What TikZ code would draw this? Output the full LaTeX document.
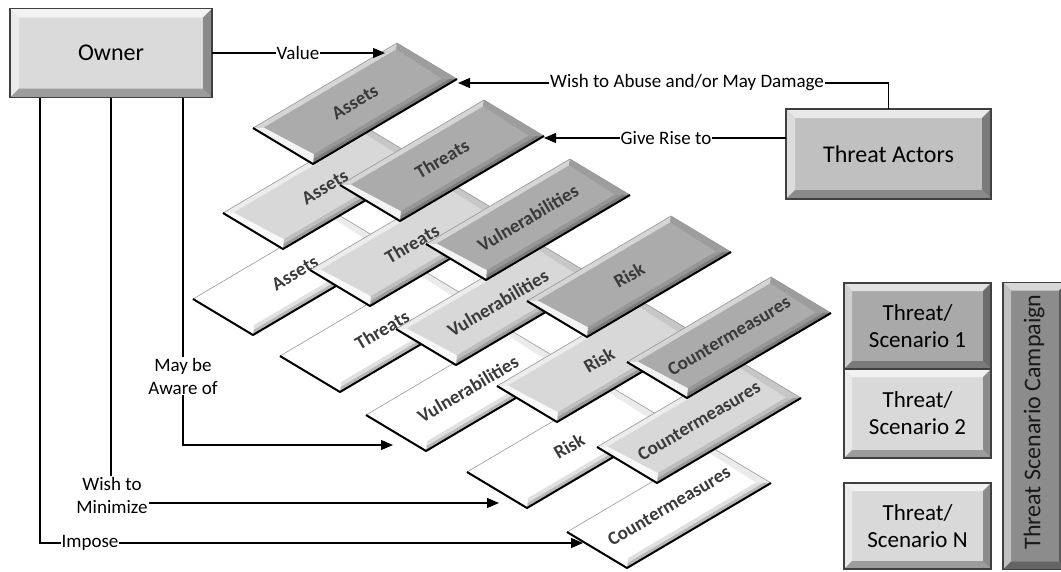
\documentclass[tikz,border=0pt]{standalone}
\usepackage{fontspec}
\setmainfont{Carlito}
\usetikzlibrary{arrows.meta,calc}

\definecolor{darkface}{HTML}{ABABAB}
\definecolor{midface}{HTML}{D8D8D8}
\definecolor{ownerface}{HTML}{DADADA}
\definecolor{actorface}{HTML}{C0C0C0}
\definecolor{tsdark}{HTML}{A9A9A9}
\definecolor{tslight}{HTML}{D9D9D9}
\definecolor{campface}{HTML}{8C8C8C}
\definecolor{txtgray}{HTML}{3A3A3A}

\tikzset{
  conn/.style={line width=1.2pt, black},
  arr/.style={conn, -{Triangle[length=12pt,width=10pt]}},
  lbl/.style={fill=white, inner sep=1pt, font=\fontsize{19}{23}\selectfont, align=center},
  bigbox/.style={inner sep=0pt, outer sep=0pt, align=center, font=\fontsize{24}{27}\selectfont},
  sltext/.style={rotate=30.55, font=\bfseries\fontsize{19}{22}\selectfont, text=txtgray, inner sep=0pt},
}

% slanted (isometric) bevelled box: #1 x, #2 y of left corner, #3 face colour, #4 text, #5 name
\newcommand\slbox[5]{%
\begin{scope}[shift={(#1,#2)}, x={(144pt,85pt)}, y={(60pt,-36pt)}]
  \fill[#3] (0,0) -- (1,0) -- (1,1) -- (0,1) -- cycle;
  \fill[#3!50!white] (0,0) -- (1,0) -- (0.96,0.08) -- (0.04,0.08) -- cycle;
  \fill[#3!92!black] (1,0) -- (1,1) -- (0.95,0.87) -- (0.96,0.08) -- cycle;
  \fill[#3!88!black] (0,1) -- (1,1) -- (0.95,0.87) -- (0.06,0.87) -- cycle;
  \fill[#3!72!black] (0,1) -- (1,1) -- (0.975,0.935) -- (0.03,0.935) -- cycle;
  \fill[#3!15!white] (0,0) -- (0,1) -- (0.06,0.87) -- (0.04,0.08) -- cycle;
  \draw[black!40, line width=0.6pt] (0,0) -- (1,0) -- (1,1);
  \draw[black, line width=2pt, line join=round] (0,0) -- (0,1) -- (1,1);
\end{scope}
\node[sltext] (#5) at ($(#1,#2)+(102,-26)$) {#4};
}

% bevel for a rectangular node: #1 name, #2 face colour, #3 width
\newcommand\rbevel[3]{%
  \fill[#2!35!white] (#1.north west) -- (#1.north east) -- ($(#1.north east)+(-#3,#3)$) -- ($(#1.north west)+(#3,#3)$) -- cycle;
  \fill[#2!55!white] (#1.north west) -- (#1.south west) -- ($(#1.south west)+(#3,-#3)$) -- ($(#1.north west)+(#3,#3)$) -- cycle;
  \fill[#2!72!black] (#1.south west) -- (#1.south east) -- ($(#1.south east)+(-#3,-#3)$) -- ($(#1.south west)+(#3,-#3)$) -- cycle;
  \fill[#2!64!black] (#1.north east) -- (#1.south east) -- ($(#1.south east)+(-#3,-#3)$) -- ($(#1.north east)+(-#3,#3)$) -- cycle;
  \draw[black!75, line width=1.5pt] (#1.north west) rectangle (#1.south east);
}

\begin{document}
\begin{tikzpicture}[x=1pt,y=-1pt]
\useasboundingbox (0,0) rectangle (1061,571);
\fill[white] (0,0) rectangle (1061,571);

% white row
\slbox{193}{299}{white}{Assets}{wA}
\slbox{280}{356}{white}{Threats}{wT}
\slbox{366}{415}{white}{Vulnerabilities}{wV}
\slbox{467}{472}{white}{Risk}{wR}
\slbox{567}{532}{white}{Countermeasures}{wC}
% medium row
\slbox{223}{213}{midface}{Assets}{mA}
\slbox{310}{270}{midface}{Threats}{mT}
\slbox{396}{329}{midface}{Vulnerabilities}{mV}
\slbox{497}{386}{midface}{Risk}{mR}
\slbox{597}{447}{midface}{Countermeasures}{mC}
% dark row
\slbox{253}{128}{darkface}{Assets}{dA}
\slbox{340}{185}{darkface}{Threats}{dT}
\slbox{426}{244}{darkface}{Vulnerabilities}{dV}
\slbox{527}{301}{darkface}{Risk}{dR}
\slbox{627}{362}{darkface}{Countermeasures}{dC}

% rectangular boxes
\node[bigbox, fill=ownerface, minimum width=202pt, minimum height=89pt] (owner) at (111,53) {};
\rbevel{owner}{ownerface}{9}
\node[bigbox] (ownerTxt) at (owner) {Owner};

\node[bigbox, fill=actorface, minimum width=205pt, minimum height=90pt] (actors) at (888.5,154) {};
\rbevel{actors}{actorface}{9}
\node[bigbox] (actorsTxt) at (actors) {Threat Actors};

\node[bigbox, fill=tsdark, minimum width=147pt, minimum height=86pt] (ts1) at (917.5,326) {};
\rbevel{ts1}{tsdark}{8}
\node[bigbox, font=\fontsize{23}{27}\selectfont] (ts1Txt) at (ts1) {Threat/\\Scenario 1};

\node[bigbox, fill=tslight, minimum width=147pt, minimum height=89pt] (ts2) at (917.5,413.5) {};
\rbevel{ts2}{tslight}{8}
\node[bigbox, font=\fontsize{23}{27}\selectfont] (ts2Txt) at (ts2) {Threat/\\Scenario 2};

\node[bigbox, fill=tslight, minimum width=147pt, minimum height=86pt] (tsn) at (917.5,526) {};
\rbevel{tsn}{tslight}{8}
\node[bigbox, font=\fontsize{23}{27}\selectfont] (tsnTxt) at (tsn) {Threat/\\Scenario N};

\begin{scope}
\clip (0,0) rectangle (1061,571);
\node[bigbox, fill=campface, minimum width=64pt, minimum height=287pt] (camp) at (1035,426) {};
\rbevel{camp}{campface}{8}
\node[bigbox, rotate=90, font=\fontsize{24}{27}\selectfont, text=black!90] (campTxt) at (1034,422) {Threat Scenario Campaign};
\end{scope}

% connector end points
\coordinate (vTip) at (385,53);
\coordinate (abTip) at (458,83);
\coordinate (grTip) at (544,138);
\coordinate (awTip) at (393,445);
\coordinate (wmTip) at (499,503);
\coordinate (imTip) at (583,543);

% connectors
\draw[arr] (owner.east) -- (vTip) node[lbl] (lValue) at (298,53) {Value};
\draw[arr] (actors.north) |- (abTip) node[lbl] (lAbuse) at (687,83) {Wish to Abuse and/or May Damage};
\draw[arr] (grTip -| actors.west) -- (grTip) node[lbl] (lGive) at (666,138) {Give Rise to};
\draw[arr] ($(owner.south)+(72,0)$) |- (awTip) node[lbl] (lAware) at (183,376) {May be\\Aware of};
\draw[arr] (owner.south) |- (wmTip) node[lbl] (lMin) at (112,495) {Wish to\\Minimize};
\draw[arr] ($(owner.south)+(-71,0)$) |- (imTip) node[lbl] (lImp) at (90,543) {Impose};
\end{tikzpicture}
\end{document}
